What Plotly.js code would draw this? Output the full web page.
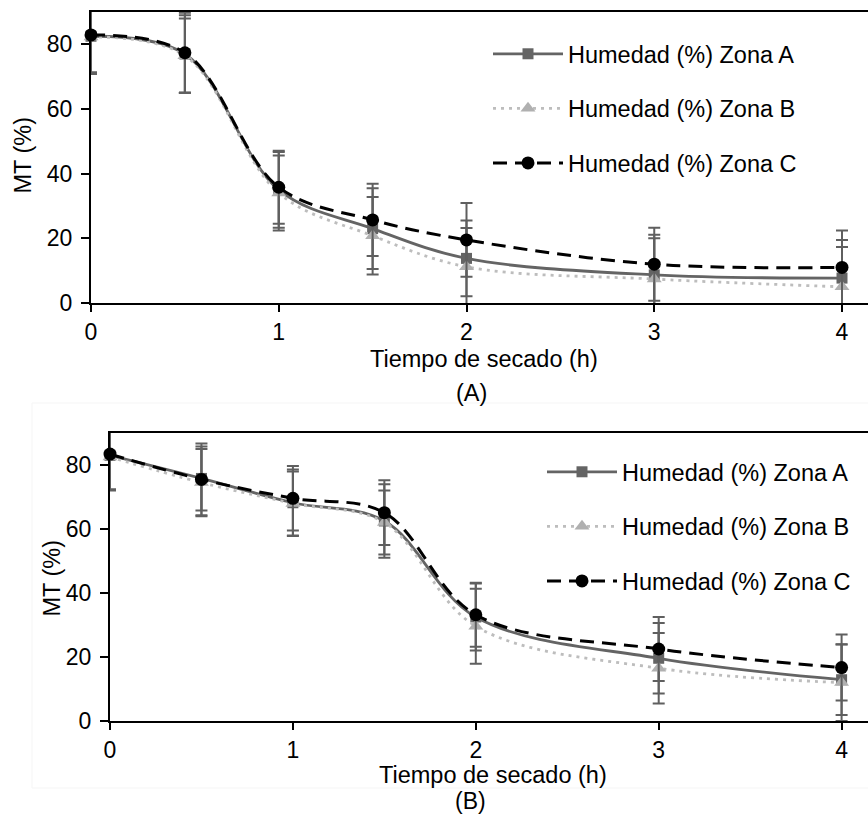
<!DOCTYPE html>
<html>
<head>
<meta charset="utf-8">
<script src="https://cdn.plot.ly/plotly-3.0.1.min.js"></script>
<style>html,body{margin:0;padding:0;background:#fff;overflow:hidden;}</style>
</head>
<body>
<div id="chart" style="width:868px;height:814px;"></div>
<script>
// Drying time (h)
const tiempo = [0, 0.5, 1, 1.5, 2, 3, 4];
const seriesNames = ['Humedad (%) Zona A', 'Humedad (%) Zona B', 'Humedad (%) Zona C'];

// Panel (A)
const zonaA_panelA = [82.5, 77.0, 35.0, 23.0, 13.8, 8.7, 7.7];
const errA_panelA  = [11.7, 12.0, 11.7, 12.5, 11.7, 12.4, 11.8];
const zonaB_panelA = [82.3, 76.5, 34.0, 20.8, 11.2, 7.4, 5.0];
const errB_panelA  = [11.5, 11.5, 11.6, 12.0, 12.0, 12.6, 12.3];
const zonaC_panelA = [82.9, 77.4, 35.8, 25.7, 19.5, 12.0, 11.0];
const errC_panelA  = [11.5, 12.4, 11.3, 11.2, 11.4, 11.3, 11.4];

// Panel (B)
const zonaA_panelB = [83.0, 75.8, 68.2, 62.5, 32.5, 19.6, 12.9];
const errA_panelB  = [10.8, 10.0, 10.4, 11.5, 10.5, 11.0, 11.0];
const zonaB_panelB = [82.5, 74.5, 68.0, 62.0, 29.6, 16.5, 12.0];
const errB_panelB  = [10.5, 10.5, 10.0, 10.0, 11.7, 11.0, 12.0];
const zonaC_panelB = [83.4, 75.5, 69.6, 65.1, 33.2, 22.5, 16.7];
const errC_panelB  = [11.0, 11.2, 10.1, 10.1, 10.0, 10.0, 10.3];

const xTicks = [0, 1, 2, 3, 4];
const yTicks = [0, 20, 40, 60, 80];

const FONT = 'Liberation Sans, Arial, sans-serif';
const ERRCOL = '#5f5f5f';

const styles = [
  {line: {color: '#646464', width: 2.8, dash: 'solid', shape: 'spline', smoothing: 1},
   marker: {symbol: 'square', size: 11, color: '#646464'}},
  {line: {color: '#bdbdbd', width: 2.8, dash: '3px,5px', shape: 'spline', smoothing: 1},
   marker: {symbol: 'triangle-up', size: 13, color: '#b0b0b0'}},
  {line: {color: '#000000', width: 3, dash: '14px,8px', shape: 'spline', smoothing: 1},
   marker: {symbol: 'circle', size: 13, color: '#000000'}}
];

function mk(i, y, err, xa, ya, leg) {
  return {
    type: 'scatter', mode: 'lines+markers',
    x: tiempo, y: y, xaxis: xa, yaxis: ya,
    name: seriesNames[i], legend: leg, legendgroup: leg + i,
    line: styles[i].line, marker: styles[i].marker,
    error_y: {type: 'data', array: err, visible: true, color: ERRCOL, thickness: 2, width: 6},
    cliponaxis: false
  };
}

const data = [
  mk(0, zonaA_panelA, errA_panelA, 'x', 'y', 'legend'),
  mk(1, zonaB_panelA, errB_panelA, 'x', 'y', 'legend'),
  mk(2, zonaC_panelA, errC_panelA, 'x', 'y', 'legend'),
  mk(0, zonaA_panelB, errA_panelB, 'x2', 'y2', 'legend2'),
  mk(1, zonaB_panelB, errB_panelB, 'x2', 'y2', 'legend2'),
  mk(2, zonaC_panelB, errC_panelB, 'x2', 'y2', 'legend2')
];

const W = 868, H = 814;
const px = v => v / W;
const py = v => (H - v) / H;

function xax(dom, rng, anchor) {
  return {domain: dom, range: rng, anchor: anchor, showline: true, linecolor: '#000', linewidth: 2,
    mirror: true, ticks: 'outside', ticklen: 7, tickwidth: 2, tickcolor: '#000',
    tickvals: xTicks, showgrid: false, zeroline: false,
    tickfont: {family: FONT, size: 23, color: '#000'}, fixedrange: true};
}
function yax(dom, anchor) {
  return {domain: dom, range: [0, 90], anchor: anchor, showline: true, linecolor: '#000', linewidth: 2,
    ticks: 'outside', ticklen: 8, tickwidth: 2, tickcolor: '#000', ticklabelstandoff: 4,
    tickvals: yTicks, showgrid: false, zeroline: false,
    tickfont: {family: FONT, size: 23, color: '#000'}, fixedrange: true};
}

const legendBase = {
  xanchor: 'left', yanchor: 'top', bgcolor: 'rgba(0,0,0,0)', borderwidth: 0,
  font: {family: FONT, size: 23.5, color: '#000'}, itemwidth: 70,
  traceorder: 'grouped', tracegroupgap: 21
};

const ann = (text, x, y, extra) => Object.assign({
  text: text, xref: 'paper', yref: 'paper', x: px(x), y: py(y),
  xanchor: 'center', yanchor: 'middle', showarrow: false,
  font: {family: FONT, size: 23.5, color: '#000'}
}, extra || {});

const layout = {
  width: W, height: H,
  margin: {l: 0, r: 0, t: 0, b: 0},
  paper_bgcolor: '#fff', plot_bgcolor: '#fff',
  font: {family: FONT, color: '#000'},
  showlegend: true,
  xaxis: xax([px(91), 1], [0, (W - 91) / 187.75], 'y'),
  yaxis: yax([py(303), py(12)], 'x'),
  xaxis2: xax([px(110), 1], [0, (W - 110) / 182.9], 'y2'),
  yaxis2: yax([py(721), py(433)], 'x2'),
  legend: Object.assign({}, legendBase, {x: px(488), y: py(32)}),
  legend2: Object.assign({}, legendBase, {x: px(542), y: py(450)}),
  shapes: [
    {type: 'rect', xref: 'paper', yref: 'paper', x0: px(32), x1: 1.01, y0: py(788), y1: py(403),
     line: {color: '#f5f5f5', width: 1}, layer: 'below'}
  ],
  annotations: [
    ann('MT (%)', 22.5, 155, {textangle: -90}),
    ann('Tiempo de secado (h)', 484, 359),
    ann('(A)', 471, 393),
    ann('MT (%)', 51.5, 578, {textangle: -90}),
    ann('Tiempo de secado (h)', 493, 775),
    ann('(B)', 470, 801, {font: {family: FONT, size: 23, color: '#000'}})
  ]
};

Plotly.newPlot('chart', data, layout, {displayModeBar: false, staticPlot: true});
</script>
</body>
</html>
